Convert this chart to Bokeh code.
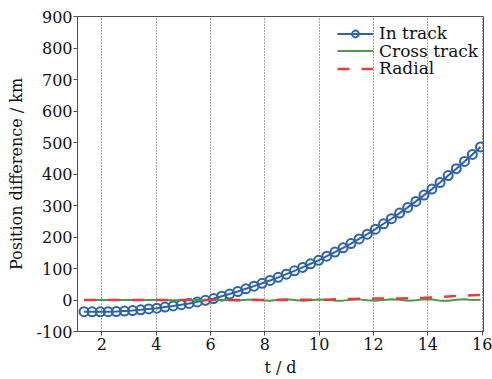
from bokeh.plotting import figure
from bokeh.models import Range1d, FixedTicker, Legend, LegendItem
from bokeh.embed import file_html
from bokeh.resources import INLINE

# Time since epoch (days)
t = [1.34, 1.64, 1.94, 2.23, 2.53, 2.83, 3.13, 3.43, 3.72, 4.02,
     4.32, 4.62, 4.92, 5.21, 5.51, 5.81, 6.11, 6.41, 6.70, 7.00,
     7.30, 7.60, 7.90, 8.19, 8.49, 8.79, 9.09, 9.39, 9.68, 9.98,
     10.28, 10.58, 10.88, 11.17, 11.47, 11.77, 12.07, 12.37, 12.66, 12.96,
     13.26, 13.56, 13.86, 14.15, 14.45, 14.75, 15.05, 15.35, 15.64, 15.94]

# Position differences (km)
in_track = [-37, -37.5, -37.5, -37, -36.5, -35, -33.5, -31, -28.5, -26,
            -22.5, -19, -15, -11, -6, -1, 4.5, 12, 19, 27,
            35.5, 44, 53, 62, 72, 82, 92.5, 103.5, 115, 126,
            139, 152, 165.5, 179, 194, 209, 225, 242, 258, 276,
            294, 313, 333, 352, 373, 395, 417, 440, 462, 486]

cross_track = [0, 0.3, 0, -0.3, 0, 0.3, 0, -0.3, 0, 0.3,
               0, -0.5, 0, 0.5, 0, -0.5, 0.5, 1, -1, -1.5,
               1, 1.5, -1, -2, 0.5, 2, 0, -2, -1, 1.5,
               1, -2, -2, 1, 2, -1, -2.5, 0, 2.5, 0.5,
               -2.5, -1, 2, 1.5, -2, -2.5, 1, 2.5, 0, 1]

radial = [0, 0, 0, 0, 0, 0, 0, 0, 0, 0,
          0, 0, 0, 0, 0, 0, 0, 0, 0, 0,
          0, 0, 0, 0, 0, 0, 0.3, 0.5, 0.5, 0.8,
          1, 2, 3, 3.5, 4, 4, 4.5, 4.5, 5, 5,
          5.5, 6, 7, 8, 9, 11, 13, 14, 15, 16]

series_names = ["In track", "Cross track", "Radial"]
x_ticks = [2, 4, 6, 8, 10, 12, 14, 16]
y_ticks = [-100, 0, 100, 200, 300, 400, 500, 600, 700, 800, 900]
y_tick_labels = {v: str(v) for v in y_ticks}

SERIF = "DejaVu Serif"
AXIS_COLOR = "#505050"
TEXT_COLOR = "#111111"

p = figure(width=492, height=379, output_backend="svg", toolbar_location=None,
           x_range=Range1d(1.1, 16.05), y_range=Range1d(-100, 900),
           min_border_left=77, min_border_right=9, min_border_top=16,
           min_border_bottom=46, background_fill_color="white",
           border_fill_color="white")

p.outline_line_color = AXIS_COLOR
p.outline_line_width = 1

# axes
for ax in (p.xaxis[0], p.yaxis[0]):
    ax.axis_line_color = AXIS_COLOR
    ax.major_tick_line_color = AXIS_COLOR
    ax.major_tick_in = 0
    ax.major_tick_out = 4
    ax.minor_tick_line_color = None
    ax.major_label_text_font = SERIF
    ax.major_label_text_font_size = "16px"
    ax.major_label_text_color = TEXT_COLOR

p.xaxis.ticker = FixedTicker(ticks=x_ticks)
p.xaxis.major_label_standoff = 2
p.yaxis.ticker = FixedTicker(ticks=y_ticks)
p.yaxis.major_label_overrides = y_tick_labels
p.yaxis.major_label_standoff = 1

p.yaxis.axis_label = "Position difference / km"
p.yaxis.axis_label_text_font = SERIF
p.yaxis.axis_label_text_font_size = "16px"
p.yaxis.axis_label_text_font_style = "normal"
p.yaxis.axis_label_text_color = TEXT_COLOR
p.yaxis.axis_label_standoff = 8

p.xaxis.axis_label = "t / d"
p.xaxis.axis_label_text_font = SERIF
p.xaxis.axis_label_text_font_size = "16px"
p.xaxis.axis_label_text_font_style = "normal"
p.xaxis.axis_label_text_color = TEXT_COLOR
p.xaxis.axis_label_standoff = 5

# vertical dotted grid at the day ticks only
p.xgrid.ticker = FixedTicker(ticks=x_ticks)
p.xgrid.grid_line_color = "#4a4a4a"
p.xgrid.grid_line_dash = "1 2"
p.xgrid.grid_line_width = 1
p.ygrid.grid_line_color = None

# series
blue = "#2c63ae"
green = "#4b9a44"
red = "#e83a40"

in_line = p.line(t, in_track, line_color=blue, line_width=2)
in_pts = p.scatter(t, in_track, marker="circle", size=9, line_color=blue,
                   line_width=2, fill_alpha=0)
cross_line = p.line(t, cross_track, line_color=green, line_width=2)
radial_line = p.line(t, radial, line_color=red, line_width=2.5,
                     line_dash="12 12")

# one compact legend entry per series, stacked tightly
entries = [(series_names[0], [in_line, in_pts], 288),
           (series_names[1], [cross_line], 270.5),
           (series_names[2], [radial_line], 253)]
for name, rends, ypos in entries:
    lg = Legend(items=[LegendItem(label=name, renderers=rends)],
                location=(260, ypos), orientation="vertical", padding=0,
                margin=0, spacing=0, glyph_width=36, glyph_height=17,
                label_height=17, label_standoff=6, label_text_font=SERIF,
                label_text_font_size="17px", label_text_color=TEXT_COLOR,
                border_line_alpha=0, background_fill_alpha=0)
    p.add_layout(lg)

open("out.html", "w").write(file_html(p, INLINE))
